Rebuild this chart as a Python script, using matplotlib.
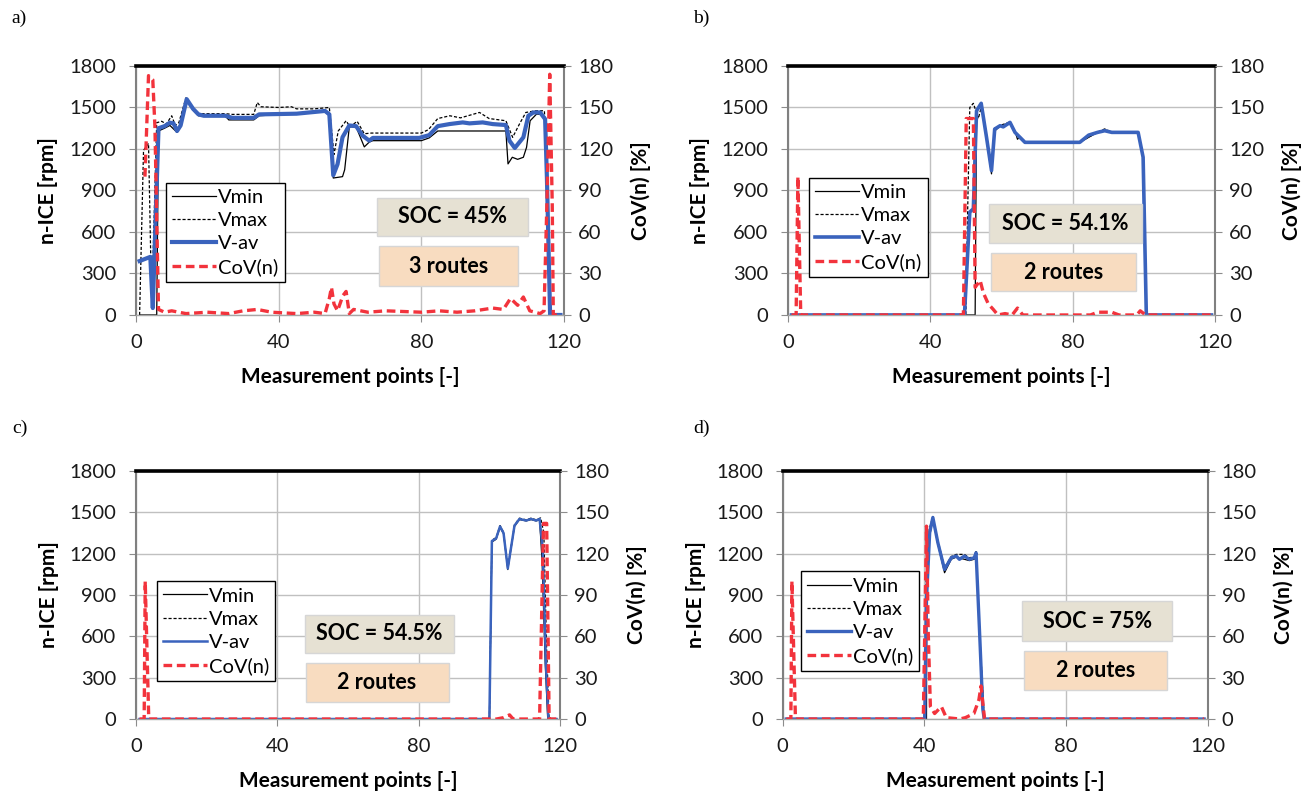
import matplotlib
matplotlib.use("Agg")
import matplotlib.pyplot as plt
from matplotlib.lines import Line2D
from matplotlib.patches import Rectangle

plt.rcParams["font.family"] = ["Lato", "DejaVu Sans"]

X_TICKS = [0, 40, 80, 120]
RPM_TICKS = [0, 300, 600, 900, 1200, 1500, 1800]
COV_TICKS = [0, 30, 60, 90, 120, 150, 180]
LEGEND_LABELS = ["Vmin", "Vmax", "V-av", "CoV(n)"]
PANEL_LETTERS = ["a)", "b)", "c)", "d)"]
SOC_TEXT = ["SOC = 45%", "SOC = 54.1%", "SOC = 54.5%", "SOC = 75%"]
ROUTES_TEXT = ["3 routes", "2 routes", "2 routes", "2 routes"]

# a) SOC 45 %, 3 routes
A_VMIN_X = [1, 5.8, 6.3, 8, 9.5, 11.5, 12.5, 14.2, 16, 17.5, 25, 26, 33, 34.5, 53, 54.2, 55.3, 57.9, 58.5,
            59.8, 61.7, 64, 65.4, 66.4, 80, 82.2, 84.6, 103.7, 104.3, 105.5, 107, 108.6, 109.5, 110.5,
            112.3, 114, 114.7, 115.5, 116, 119]
A_VMIN_Y = [0, 0, 1330, 1350, 1370, 1320, 1360, 1550, 1480, 1440, 1440, 1410, 1410, 1440, 1470, 1440, 990,
            1000, 1050, 1360, 1360, 1215, 1250, 1260, 1260, 1280, 1330, 1330, 1092, 1140, 1125, 1140, 1212,
            1404, 1452, 1450, 1400, 900, 0, 0]
A_VMAX_X = [1, 2.1, 3.5, 4.4, 5.8, 7.2, 8.5, 10, 11, 12, 14, 16, 17.5, 25, 27, 33, 34, 35, 40, 43.6, 45,
            50, 54.2, 55.5, 56.7, 58.9, 60, 62, 64, 66, 80, 82, 84.6, 88, 91, 96.3, 99, 103.7, 105.6,
            107.5, 109.3, 112, 114.5, 115.3, 116.2, 119]
A_VMAX_Y = [0, 1190, 1240, 60, 1390, 1400, 1380, 1440, 1370, 1390, 1570, 1500, 1455, 1455, 1450, 1450,
            1536, 1505, 1500, 1505, 1490, 1490, 1500, 1160, 1330, 1404, 1360, 1400, 1310, 1315, 1315,
            1340, 1420, 1440, 1425, 1464, 1420, 1404, 1284, 1380, 1464, 1476, 1476, 1000, 0, 0]
A_VAV_X = [1, 2, 3, 4, 4.7, 6.3, 8, 9.5, 10.5, 11.5, 12.5, 14.2, 16, 17.5, 19, 25, 27, 33, 34.5, 45, 53,
           54.2, 55.3, 56.5, 57.9, 59.8, 61.7, 63.6, 65.4, 66.4, 79.4, 82.2, 84.6, 87.9, 91.6, 93.5,
           97.2, 100, 103.7, 104.7, 106.2, 108.6, 110, 111.4, 113.3, 114.7, 115.2, 116.1, 119]
A_VAV_Y = [390, 400, 410, 420, 50, 1350, 1365, 1390, 1385, 1330, 1370, 1560, 1490, 1450, 1440, 1440,
           1425, 1425, 1450, 1455, 1475, 1450, 1010, 1090, 1285, 1370, 1365, 1295, 1260, 1280, 1280,
           1300, 1365, 1380, 1392, 1385, 1392, 1380, 1373, 1260, 1207, 1284, 1440, 1464, 1464, 1416,
           996, 0, 0]
A_COV_X = [2.5, 3.5, 4.7, 5.3, 6.3, 8, 10, 14, 20, 26, 30, 34, 38, 45, 50, 53, 54.2, 54.8, 55.5, 56.5,
           58, 58.9, 59.8, 61, 65, 70, 80, 85, 90, 95, 100, 103, 105, 107, 108.6, 110.4, 113.3, 114.4,
           115.2, 116, 116.7, 117, 119]
A_COV_Y = [100, 173, 170, 136, 4, 2, 3, 1, 2, 1, 3, 4, 2, 1, 2, 1, 12, 20, 8, 3, 14, 17, 1, 4, 2, 3, 2,
           3, 2, 3, 5, 4, 12, 7, 13, 3, 1, 3, 80, 174, 80, 0, 0]

# b) SOC 54.1 %, 2 routes
B_VMIN_X = [1, 52.6, 53, 54.3, 55.8, 57.2, 58.1, 59.6, 62.4, 63.8, 64.5, 65.2, 66.6, 82, 87, 89, 91,
            98.4, 99.8, 100.7, 119]
B_VMIN_Y = [0, 0, 1476, 1530, 1270, 1020, 1330, 1365, 1390, 1330, 1270, 1290, 1248, 1248, 1320, 1340,
            1320, 1320, 1140, 0, 0]
B_VMAX_X = [1, 50, 50.5, 51.1, 52.1, 53.5, 54.5, 55.8, 57.2, 58.1, 59.6, 62.4, 63.8, 65.2, 66.6, 82, 87,
            89, 91, 98.4, 99.8, 100.7, 119]
B_VMAX_Y = [0, 0, 756, 1500, 1530, 1420, 1520, 1300, 1060, 1350, 1370, 1395, 1320, 1284, 1250, 1250,
            1322, 1345, 1322, 1322, 1140, 0, 0]
B_VAV_X = [1, 49.6, 51.1, 52.1, 53, 54.3, 55.8, 57.2, 58.1, 59.6, 60.5, 62.4, 63.8, 65.2, 66.6, 82,
           84.5, 87, 89, 91, 98.4, 99.8, 100.7, 119]
B_VAV_Y = [0, 0, 744, 768, 1476, 1530, 1284, 1044, 1344, 1368, 1360, 1392, 1320, 1284, 1248, 1248,
           1300, 1320, 1332, 1320, 1320, 1140, 0, 0]
B_COV_X = [1, 2.3, 2.8, 3.6, 49.3, 50.1, 52.1, 52.6, 54, 54.9, 56.3, 57.7, 59, 61, 63, 64.5, 66, 85, 87,
           91, 93, 98, 99, 100.5, 119]
B_COV_Y = [0, 0, 100, 0, 0, 142, 142, 20, 25, 16, 8, 4, 0, 1, 0, 5, 0, 0, 2, 2, 0, 0, 3, 0, 0]

# c) SOC 54.5 %, 2 routes
C_VMIN_X = [1, 100, 100.7, 101.9, 103, 104, 105.2, 107.1, 108.5, 110.4, 111.8, 113.2, 114.2, 114.9,
            115.8, 116.5, 119]
C_VMIN_Y = [0, 0, 1285, 1305, 1390, 1345, 1085, 1398, 1448, 1438, 1448, 1438, 1445, 1150, 400, 0, 0]
C_VMAX_X = [1, 100, 100.7, 101.9, 103, 104, 105.2, 107.1, 108.5, 110.4, 111.8, 113.2, 114.5, 115.4,
            116.2, 116.9, 119]
C_VMAX_Y = [0, 0, 1298, 1317, 1404, 1356, 1100, 1410, 1458, 1446, 1458, 1446, 1460, 1350, 500, 0, 0]
C_VAV_X = [1, 100, 100.7, 101.9, 103, 104, 105.2, 107.1, 108.5, 110.4, 111.8, 113.2, 114.2, 115.1, 116,
           116.7, 119]
C_VAV_Y = [0, 0, 1292, 1311, 1398, 1350, 1093, 1404, 1452, 1441, 1452, 1441, 1452, 1234, 391, 0, 0]
C_COV_X = [1, 2.3, 2.6, 3.6, 102, 104, 105.7, 106.7, 114.2, 115.3, 116.2, 116.9, 119]
C_COV_Y = [0, 0, 100, 0, 0, 1, 3, 0, 0, 142, 142, 0, 0]

# d) SOC 75 %, 2 routes
D_VMIN_X = [1, 40.6, 40.7, 41.5, 42.4, 43.8, 45.7, 47.6, 49, 52.7, 54.1, 54.6, 55.6, 56.9, 119]
D_VMIN_Y = [0, 0, 1300, 1330, 1450, 1270, 1062, 1160, 1175, 1150, 1160, 1200, 620, 0, 0]
D_VMAX_X = [1, 40, 40.5, 41.4, 42.4, 43.8, 45.7, 47.6, 49, 51.3, 52.7, 54.1, 54.6, 55.6, 56.9, 119]
D_VMAX_Y = [0, 0, 1000, 1380, 1470, 1300, 1100, 1180, 1195, 1195, 1170, 1180, 1215, 630, 0, 0]
D_VAV_X = [1, 40.1, 40.6, 41.5, 42.4, 43.8, 45.7, 47.6, 49, 49.9, 51.3, 52.7, 54.1, 54.6, 55.6, 56.5,
           56.9, 119]
D_VAV_Y = [0, 0, 867, 1353, 1463, 1281, 1086, 1171, 1183, 1159, 1183, 1159, 1171, 1207, 624, 73, 0, 0]
D_COV_X = [1, 2.3, 2.6, 3.6, 39.7, 40.6, 41.1, 41.7, 42.9, 44.8, 46.2, 50, 51.6, 54, 55.4, 56, 57, 119]
D_COV_Y = [0, 0, 100, 0, 0, 140, 62, 9, 4, 9, 1, 0, 1, 4, 14, 24, 0, 0]

SERIES = [
    ((A_VMIN_X, A_VMIN_Y), (A_VMAX_X, A_VMAX_Y), (A_VAV_X, A_VAV_Y), (A_COV_X, A_COV_Y)),
    ((B_VMIN_X, B_VMIN_Y), (B_VMAX_X, B_VMAX_Y), (B_VAV_X, B_VAV_Y), (B_COV_X, B_COV_Y)),
    ((C_VMIN_X, C_VMIN_Y), (C_VMAX_X, C_VMAX_Y), (C_VAV_X, C_VAV_Y), (C_COV_X, C_COV_Y)),
    ((D_VMIN_X, D_VMIN_Y), (D_VMAX_X, D_VMAX_Y), (D_VAV_X, D_VAV_Y), (D_COV_X, D_COV_Y)),
]

# layout: axes rect, legend anchor, SOC box, routes box, letter pos, blue width
LAYOUT = [
    dict(rect=[0.104, 0.6018, 0.3272, 0.3148], legend=(0.07, 0.53), soc=(0.563, 0.317, 0.353, 0.153),
         routes=(0.567, 0.116, 0.326, 0.161), letter=(0.009, 0.977), blue=3.0),
    dict(rect=[0.6024, 0.6018, 0.3265, 0.3148], legend=(0.049, 0.55), soc=(0.47, 0.289, 0.36, 0.157),
         routes=(0.475, 0.096, 0.341, 0.153), letter=(0.53, 0.977), blue=2.6),
    dict(rect=[0.104, 0.091, 0.3242, 0.3135], legend=(0.049, 0.555), soc=(0.398, 0.267, 0.351, 0.154),
         routes=(0.40, 0.069, 0.337, 0.158), letter=(0.009, 0.459), blue=1.8),
    dict(rect=[0.5984, 0.091, 0.3249, 0.3135], legend=(0.042, 0.595), soc=(0.564, 0.316, 0.352, 0.158),
         routes=(0.567, 0.117, 0.337, 0.158), letter=(0.53, 0.459), blue=2.4),
]

BLUE = "#3a63bd"
RED = "#f2333c"
GRID = "#c0c0c0"


def draw_panel(fig, series, lay, letter, soc, routes):
    (vmin, vmax, vav, cov) = series
    ax = fig.add_axes(lay["rect"])
    ax.plot(*vmin, color="black", lw=0.9)
    ax.plot(*vmax, color="black", lw=0.9, dashes=(2.5, 1.5))
    ax.plot(*vav, color=BLUE, lw=lay["blue"])
    ax.set_xlim(0, 120); ax.set_ylim(0, 1800)
    ax.set_xticks(X_TICKS); ax.set_yticks(RPM_TICKS)
    ax.grid(True, color=GRID, lw=1); ax.set_axisbelow(True)
    ax.tick_params(axis="both", labelsize=14.5, length=5, color="#8c8c8c", labelcolor="#1a1a1a")
    ax.tick_params(axis="y", pad=9); ax.tick_params(axis="x", pad=9)
    ax.spines["top"].set(color="black", lw=2.6)
    for side in ("left", "right"):
        ax.spines[side].set(color="#808080", lw=1.5)
    ax.spines["bottom"].set(color="#a6a6a6", lw=1)
    ax.set_xlabel("Measurement points [-]", fontsize=15, fontweight="bold", va="center")
    ax.xaxis.set_label_coords(0.5, -0.25)
    ax.set_ylabel("n-ICE [rpm]", fontsize=15, fontweight="bold", va="center", ha="center")
    ax.yaxis.set_label_coords(-0.205, 0.5)

    tw = ax.twinx()
    tw.plot(*cov, color=RED, lw=2.4, dashes=(2.6, 1.4))
    tw.set_ylim(0, 180); tw.set_yticks(COV_TICKS)
    tw.tick_params(axis="y", labelsize=14.5, length=5, color="#8c8c8c", labelcolor="#1a1a1a", pad=5)
    for s in tw.spines.values():
        s.set_visible(False)
    tw.set_ylabel("CoV(n) [%]", fontsize=15, fontweight="bold", va="center", ha="center")
    tw.yaxis.set_label_coords(1.18, 0.5)

    handles = [Line2D([], [], color="black", lw=0.9),
               Line2D([], [], color="black", lw=0.9, dashes=(2.5, 1.5)),
               Line2D([], [], color=BLUE, lw=lay["blue"]),
               Line2D([], [], color=RED, lw=2.4, dashes=(2.6, 1.4))]
    leg = tw.legend(handles, LEGEND_LABELS, loc="upper left", bbox_to_anchor=lay["legend"], fontsize=14.5,
                    fancybox=False, framealpha=1, edgecolor="black", handlelength=2.2,
                    handletextpad=0.1, labelspacing=0.3, borderpad=0.3, borderaxespad=0)
    leg.get_frame().set_linewidth(1)

    for (box, text, fill) in ((lay["soc"], soc, "#e6e1d3"), (lay["routes"], routes, "#f8dcc0")):
        x, y, w, h = box
        tw.add_patch(Rectangle((x, y), w, h, transform=tw.transAxes, facecolor=fill,
                               edgecolor="#d6d6d6", lw=1, zorder=5))
        tw.text(x + w / 2, y + h / 2, text, transform=tw.transAxes, ha="center", va="center",
                fontsize=15.5, fontweight="bold", zorder=6)

    fig.text(*lay["letter"], letter, fontsize=14, family="Liberation Serif", va="center")


def main():
    fig = plt.figure(figsize=(13.08, 7.91), dpi=100)
    for series, lay, letter, soc, routes in zip(SERIES, LAYOUT, PANEL_LETTERS, SOC_TEXT, ROUTES_TEXT):
        draw_panel(fig, series, lay, letter, soc, routes)
    fig.savefig("out.png", dpi=100)
    plt.close(fig)


if __name__ == "__main__": main()
